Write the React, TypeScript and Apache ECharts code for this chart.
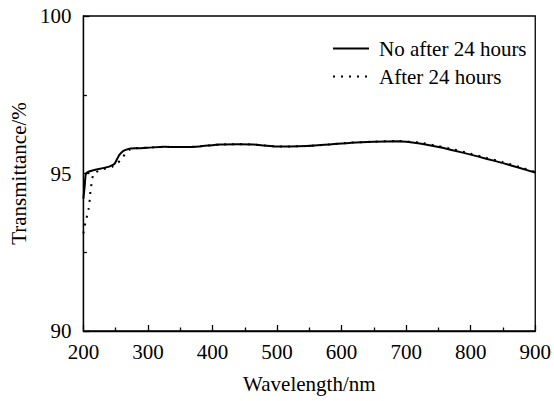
import React, { useEffect, useRef } from "react";
import * as echarts from "echarts";

const xTicks = [200, 300, 400, 500, 600, 700, 800, 900];
const yTicks = [90, 95, 100];

const noAfterWavelengths = [200, 202, 204, 210, 220, 230, 240, 248, 252, 256, 262, 270, 280, 300, 326, 341, 360, 380, 412, 440, 463, 480, 498, 520, 545, 580, 615, 650, 687, 721, 750, 772, 800, 824, 850, 875, 900];
const noAfterValues = [94.2, 94.6, 95.0, 95.07, 95.13, 95.17, 95.22, 95.3, 95.45, 95.6, 95.72, 95.78, 95.8, 95.82, 95.85, 95.84, 95.84, 95.86, 95.92, 95.93, 95.92, 95.89, 95.86, 95.86, 95.87, 95.92, 95.98, 96.01, 96.02, 95.95, 95.84, 95.74, 95.6, 95.47, 95.33, 95.18, 95.03];

const afterWavelengths = [200, 202, 205, 208, 210, 211, 213, 216, 230, 245, 257, 265, 272, 280, 300, 326, 341, 360, 380, 412, 440, 463, 480, 498, 520, 545, 580, 615, 650, 687, 721, 750, 772, 800, 824, 850, 875, 900];
const afterValues = [93.1, 93.33, 93.6, 93.87, 94.2, 94.47, 94.72, 95.0, 95.13, 95.22, 95.41, 95.63, 95.76, 95.8, 95.82, 95.85, 95.84, 95.84, 95.86, 95.92, 95.93, 95.92, 95.89, 95.86, 95.86, 95.87, 95.92, 95.98, 96.01, 96.03, 95.98, 95.87, 95.77, 95.63, 95.5, 95.36, 95.21, 95.05];

const seriesNames = ["No after 24 hours", "After 24 hours"];

const FONT = "'Liberation Serif', 'Times New Roman', serif";

export default function App() {
  const ref = useRef<HTMLDivElement>(null);
  useEffect(() => {
    if (!ref.current) return;
    const chart = echarts.init(ref.current, undefined, { renderer: "svg" });
    const pair = (xs: number[], ys: number[]) => xs.map((x, i) => [x, ys[i]]);
    chart.setOption({
      animation: false,
      backgroundColor: "#fff",
      grid: {
        left: 77.5,
        right: 17,
        top: 16,
        bottom: 70,
        show: true,
        borderColor: "#000",
        borderWidth: 1.3,
        backgroundColor: "transparent",
      },
      legend: {
        orient: "vertical",
        left: 327,
        top: 33,
        itemWidth: 36,
        itemHeight: 14,
        itemGap: 7,
        data: seriesNames,
        itemStyle: { opacity: 0 },
        textStyle: {
          fontFamily: FONT,
          fontSize: 21,
          color: "#000",
          lineHeight: 21,
          padding: [0, 0, 0, 5],
        },
      },
      xAxis: {
        type: "value",
        min: 200,
        max: 900,
        interval: 100,
        name: "Wavelength/nm",
        nameLocation: "middle",
        nameGap: 42,
        nameTextStyle: { fontFamily: FONT, fontSize: 21, color: "#000" },
        axisLine: { onZero: false, lineStyle: { color: "#000", width: 1.3 } },
        axisTick: { inside: true, length: 6, lineStyle: { color: "#000", width: 1.3 } },
        minorTick: { show: true, splitNumber: 2, length: 3.5, lineStyle: { color: "#000", width: 1.3 } },
        splitLine: { show: false },
        axisLabel: {
          fontFamily: FONT,
          fontSize: 21,
          color: "#000",
          margin: 10,
          formatter: (v: number) => (xTicks.includes(v) ? String(v) : ""),
        },
      },
      yAxis: {
        type: "value",
        min: 90,
        max: 100,
        interval: 5,
        name: "Transmittance/%",
        nameLocation: "middle",
        nameGap: 45,
        nameTextStyle: { fontFamily: FONT, fontSize: 21, color: "#000" },
        axisLine: { onZero: false, lineStyle: { color: "#000", width: 1.3 } },
        axisTick: { inside: true, length: 6, lineStyle: { color: "#000", width: 1.3 } },
        minorTick: { show: true, splitNumber: 2, length: 3.5, lineStyle: { color: "#000", width: 1.3 } },
        splitLine: { show: false },
        axisLabel: {
          fontFamily: FONT,
          fontSize: 21,
          color: "#000",
          margin: 12,
          formatter: (v: number) => (yTicks.includes(v) ? String(v) : ""),
        },
      },
      series: [
        {
          name: seriesNames[0],
          type: "line",
          data: pair(noAfterWavelengths, noAfterValues),
          symbol: "none",
          smooth: 0.2,
          lineStyle: { color: "#000", width: 2 },
          itemStyle: { color: "#000" },
          z: 3,
        },
        {
          name: seriesNames[1],
          type: "line",
          data: pair(afterWavelengths, afterValues),
          symbol: "none",
          smooth: 0.2,
          lineStyle: { color: "#000", width: 2, type: [2, 6] },
          itemStyle: { color: "#000" },
          z: 2,
        },
      ],
    });
    return () => chart.dispose();
  }, []);
  return (
    <div
      ref={ref}
      style={{ position: "fixed", left: 0, top: 0, width: 554, height: 401 }}
    />
  );
}
